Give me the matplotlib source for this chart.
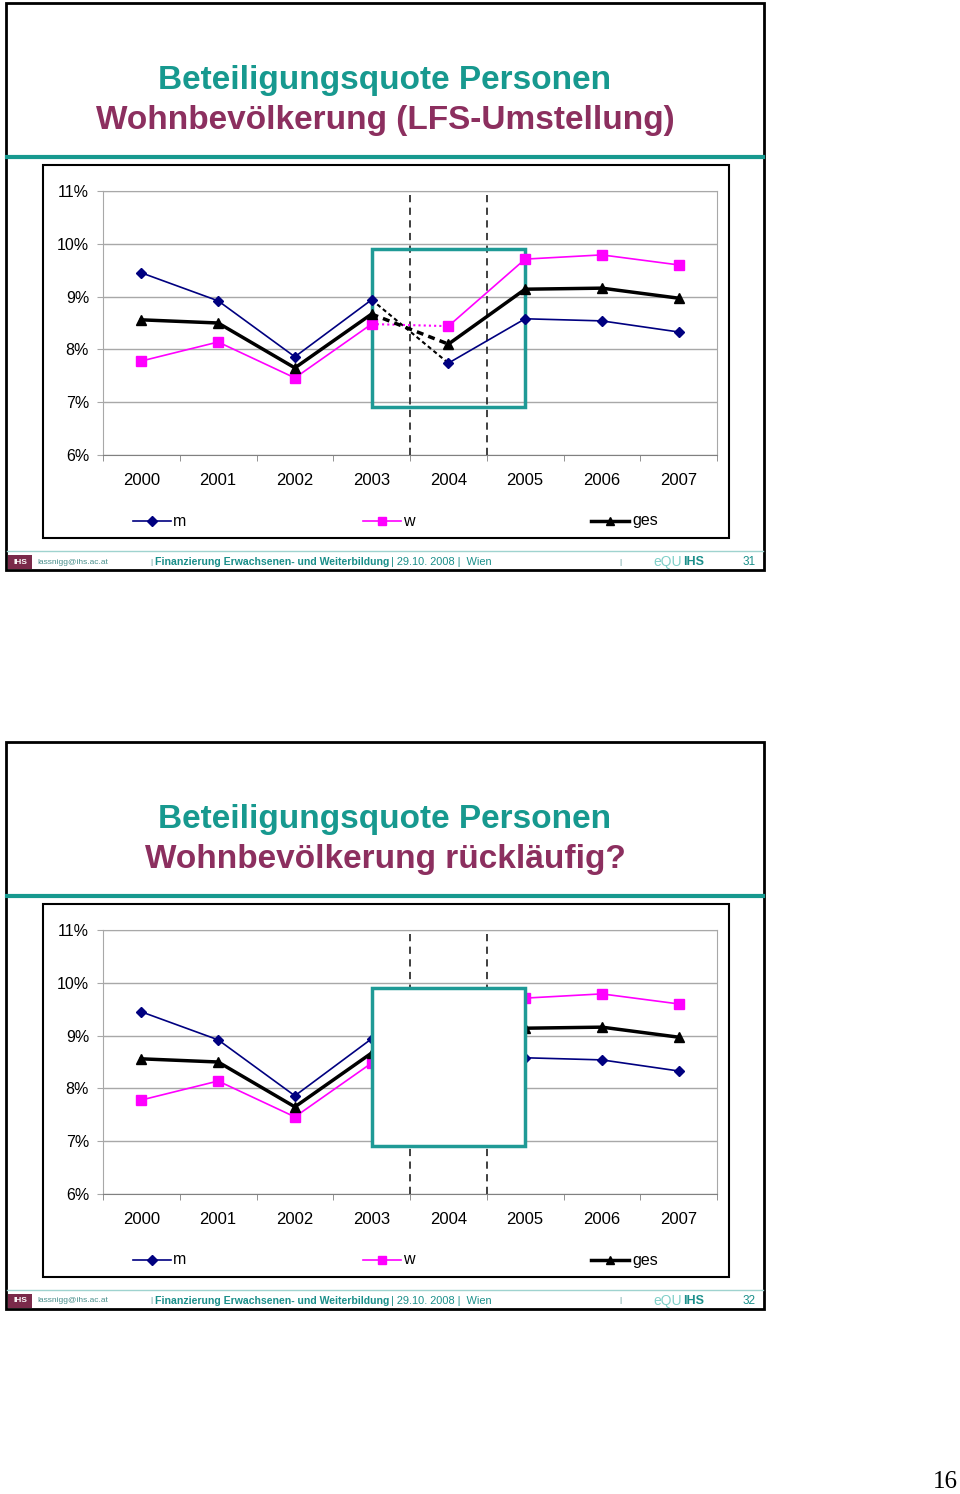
import matplotlib
matplotlib.use("Agg")
import matplotlib.pyplot as plt
from matplotlib.patches import Rectangle
from matplotlib.lines import Line2D

plt.rcParams['font.family'] = ['Liberation Sans', 'DejaVu Sans']

# data (participation rate in %)
years = ['2000', '2001', '2002', '2003', '2004', '2005', '2006', '2007']
m_vals = [9.45, 8.92, 7.86, 8.94, 7.74, 8.58, 8.54, 8.33]
w_vals = [7.78, 8.14, 7.46, 8.48, 8.44, 9.71, 9.79, 9.60]
ges_vals = [8.56, 8.50, 7.65, 8.67, 8.10, 9.14, 9.16, 8.97]
yticks = [6, 7, 8, 9, 10, 11]
ytick_labels = ['6%', '7%', '8%', '9%', '10%', '11%']
series_names = ['m', 'w', 'ges']
titles1 = ['Beteiligungsquote Personen', 'Wohnbevölkerung (LFS-Umstellung)']
titles2 = ['Beteiligungsquote Personen', 'Wohnbevölkerung rückläufig?']
page_nums = ['31', '32']

W, H = 960, 1494
fig = plt.figure(figsize=(W / 100, H / 100), dpi=100)

TEAL = '#17998f'
MAROON = '#8c2f5f'
GRID = '#a8a8a8'
NAVY = '#000080'
MAG = '#ff00ff'


def fx(x):
    return x / W


def fy(y):
    return 1 - y / H


def px_rect(x0, y0, x1, y1, **kw):
    r = Rectangle((fx(x0), fy(y1)), fx(x1) - fx(x0), fy(y0) - fy(y1),
                  transform=fig.transFigure, **kw)
    fig.add_artist(r)


def px_line(xs, ys, **kw):
    fig.add_artist(Line2D([fx(x) for x in xs], [fy(y) for y in ys],
                          transform=fig.transFigure, **kw))


def slide(dy, titles, page, covered):
    # slide frame
    px_rect(6, 3 + dy, 764, 570 + dy, fill=False, edgecolor='black', lw=2)
    fig.text(fx(385), fy(80 + dy), titles[0], color=TEAL, fontsize=24,
             fontweight='bold', ha='center', va='center')
    fig.text(fx(385), fy(120 + dy), titles[1], color=MAROON, fontsize=24,
             fontweight='bold', ha='center', va='center')
    px_line([7, 763], [157 + dy, 157 + dy], color=TEAL, lw=3)

    # chart area
    px_rect(43, 165 + dy, 729, 538 + dy, fill=False, edgecolor='black', lw=1.5)
    ax = fig.add_axes([fx(103), fy(455 + dy), fx(717) - fx(103),
                       fy(191 + dy) - fy(455 + dy)])
    x = list(range(len(years)))
    ax.set_xlim(-0.5, 7.5)
    ax.set_ylim(6, 11)
    ax.set_yticks(yticks)
    ax.set_yticklabels(ytick_labels)
    ax.set_xticks(x)
    ax.set_xticklabels(years)
    ax.set_xticks([i + 0.5 for i in range(-1, 8)], minor=True)
    ax.tick_params(axis='x', which='major', length=0, pad=13, labelsize=12)
    ax.tick_params(axis='x', which='minor', length=4, color='#808080')
    ax.tick_params(axis='y', length=4, color=GRID, pad=6, labelsize=11.5)
    ax.yaxis.grid(True, color=GRID, lw=1)
    ax.set_axisbelow(True)
    for s in ['left', 'right', 'top']:
        ax.spines[s].set_color(GRID)
    ax.spines['bottom'].set_color('#808080')

    for xv in [3.5, 4.5]:
        ax.axvline(xv, color='#303030', lw=1.3, ls=(0, (4, 3)), zorder=1)

    specs = [
        (m_vals, NAVY, 'D', 1.2, 5.5, ('black', 1.5, (0, (2, 1.5)))),
        (w_vals, MAG, 's', 1.2, 6.5, (MAG, 1.5, (0, (1, 1.5)))),
        (ges_vals, 'black', '^', 2.5, 6.5, ('black', 2.5, (0, (2, 1.5)))),
    ]
    for vals, col, mk, lw, ms, (dcol, dlw, dls) in specs:
        ax.plot(x[:4], vals[:4], color=col, lw=lw, zorder=3)
        ax.plot(x[4:], vals[4:], color=col, lw=lw, zorder=3)
        ax.plot(x[3:5], vals[3:5], color=dcol, lw=dlw, ls=dls, zorder=3)
        ax.plot(x, vals, ls='none', marker=mk, color=col, ms=ms, zorder=4)

    box = Rectangle((3, 6.91), 2, 2.99, facecolor='white' if covered else 'none',
                    edgecolor='#1f9a96', lw=2.5, clip_on=False,
                    zorder=6 if covered else 2)
    ax.add_patch(box)

    # legend
    leg = [(133, 152, 173, NAVY, 'D', 1.2, 5),
           (363, 382, 403, MAG, 's', 1.2, 6),
           (591, 610, 632, 'black', '^', 2.5, 6)]
    for (x0, xm, xl, col, mk, lw, ms), name in zip(leg, series_names):
        px_line([x0, x0 + 38], [521 + dy, 521 + dy], color=col, lw=lw)
        px_line([xm], [521 + dy], color=col, marker=mk, ms=ms, ls='none')
        fig.text(fx(xl), fy(521 + dy), name, fontsize=11.5, va='center', ha='left')

    # footer
    px_line([7, 763], [551 + dy, 551 + dy], color='#9fd3cf', lw=1)
    px_rect(8, 555 + dy, 32, 569 + dy, facecolor='#7a2a4a', edgecolor='none')
    fig.text(fx(20), fy(562 + dy), 'IHS', color='white', fontsize=6,
             fontweight='bold', ha='center', va='center')
    fig.text(fx(37), fy(562 + dy), 'lassnigg@ihs.ac.at', color='#4a8f8c',
             fontsize=6, va='center')
    fig.text(fx(150), fy(562 + dy), '|', color='#4a8f8c', fontsize=6, va='center')
    fig.text(fx(155), fy(562 + dy), 'Finanzierung Erwachsenen- und Weiterbildung',
             color='#1b8f8a', fontsize=7.6, fontweight='bold', va='center')
    fig.text(fx(391), fy(562 + dy), '| 29.10. 2008 |  Wien', color='#1b8f8a',
             fontsize=7.9, va='center')
    fig.text(fx(619), fy(562 + dy), '|', color='#4a8f8c', fontsize=6, va='center')
    fig.text(fx(653), fy(562 + dy), 'eQU', color='#7fcfc8', fontsize=10,
             va='center')
    fig.text(fx(683), fy(562 + dy), 'IHS', color='#1b8f8a', fontsize=9,
             fontweight='bold', va='center')
    fig.text(fx(756), fy(562 + dy), page, color='#1b8f8a', fontsize=8.5,
             ha='right', va='center')


slide(0, titles1, page_nums[0], False)
slide(739, titles2, page_nums[1], True)

fig.text(fx(945), fy(1482), '16', fontsize=18, family='Liberation Serif',
         ha='center', va='center')

fig.savefig('out.png', dpi=100)
